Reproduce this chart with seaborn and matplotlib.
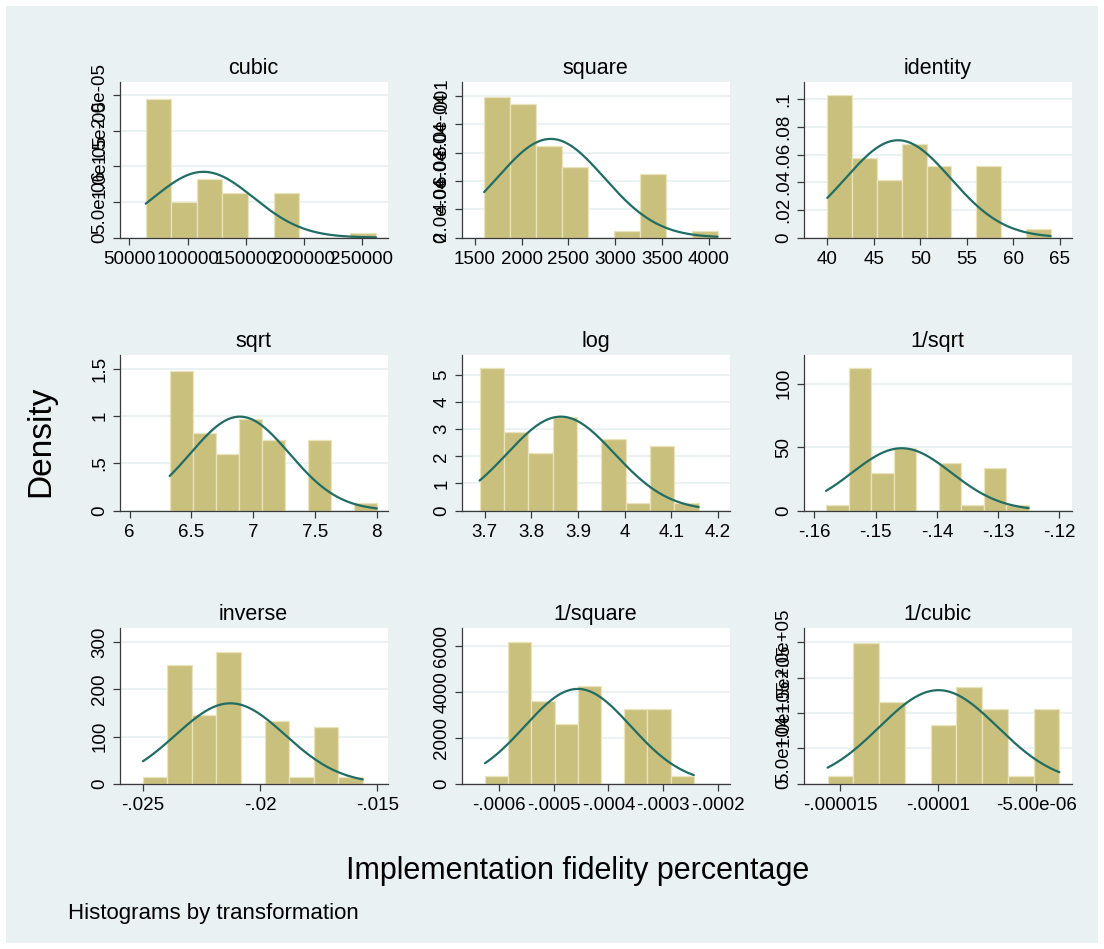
import numpy as np
import pandas as pd
import matplotlib
matplotlib.use("Agg")
import matplotlib.pyplot as plt
from matplotlib.patches import Rectangle
from matplotlib.ticker import FixedLocator, FixedFormatter
import seaborn as sns

# ---- data -------------------------------------------------------------
panel_names = ["cubic", "square", "identity",
               "sqrt", "log", "1/sqrt",
               "inverse", "1/square", "1/cubic"]

# range of the transformed variable (9 equal-width bins over it)
bin_low = [64000, 1600, 40, 6.32456, 3.68888, -0.158114, -0.025, -0.000625, -1.5625e-05]
bin_high = [262144, 4096, 64, 8.0, 4.15888, -0.125, -0.015625, -0.00024414, -3.8147e-06]

dens_cubic = [1.944e-05, 5.02e-06, 8.17e-06, 6.29e-06, 0, 6.29e-06, 0, 0, 0.70e-06]
dens_square = [0.000993, 0.000946, 0.000645, 0.000496, 0, 0.0000473, 0.000449, 0, 0.0000473]
dens_identity = [0.1029, 0.0572, 0.0416, 0.0673, 0.0519, 0, 0.0519, 0, 0.0060]
dens_sqrt = [1.4825, 0.819, 0.597, 0.967, 0.748, 0, 0.748, 0, 0.0847]
dens_log = [5.246, 2.887, 2.113, 3.44, 0, 2.641, 0.295, 2.383, 0.295]
dens_invsqrt = [4.2, 112.1, 29.9, 49.1, 0, 37.3, 4.2, 33.9, 4.2]
dens_inverse = [14.1, 251, 146, 278.5, 0, 133.3, 14.1, 121.3, 14.1]
dens_invsquare = [347, 6173, 3600, 2602, 4250, 0, 3267, 3267, 347]
dens_invcubic = [10402, 199527, 115366, 0, 83688, 137116, 105437, 10402, 105437]
densities = [dens_cubic, dens_square, dens_identity,
             dens_sqrt, dens_log, dens_invsqrt,
             dens_inverse, dens_invsquare, dens_invcubic]

# normal density overlay parameters
curve_mean = [113700, 2312, 47.6, 6.892, 3.863, -0.14575, -0.02127, -0.0004558, -9.975e-06]
curve_sd = [43130, 572, 5.67, 0.401, 0.1152, 0.008125, 0.002338, 9.683e-05, 3.0135e-06]

# tick values and labels
x_ticks = [
    [50000, 100000, 150000, 200000, 250000],
    [1500, 2000, 2500, 3000, 3500, 4000],
    [40, 45, 50, 55, 60, 65],
    [6, 6.5, 7, 7.5, 8],
    [3.7, 3.8, 3.9, 4.0, 4.1, 4.2],
    [-0.16, -0.15, -0.14, -0.13, -0.12],
    [-0.025, -0.02, -0.015],
    [-0.0006, -0.0005, -0.0004, -0.0003, -0.0002],
    [-1.5e-05, -1e-05, -5e-06],
]
x_labels = [
    ["50000", "100000", "150000", "200000", "250000"],
    ["1500", "2000", "2500", "3000", "3500", "4000"],
    ["40", "45", "50", "55", "60", "65"],
    ["6", "6.5", "7", "7.5", "8"],
    ["3.7", "3.8", "3.9", "4", "4.1", "4.2"],
    ["-.16", "-.15", "-.14", "-.13", "-.12"],
    ["-.025", "-.02", "-.015"],
    ["-.0006", "-.0005", "-.0004", "-.0003", "-.0002"],
    ["-.000015", "-.00001", "-5.00e-06"],
]
y_ticks = [
    [0, 5e-06, 1e-05, 1.5e-05, 2e-05],
    [0, 0.0002, 0.0004, 0.0006, 0.0008, 0.001],
    [0, 0.02, 0.04, 0.06, 0.08, 0.1],
    [0, 0.5, 1, 1.5],
    [0, 1, 2, 3, 4, 5],
    [0, 50, 100],
    [0, 100, 200, 300],
    [0, 2000, 4000, 6000],
    [0, 50000, 100000, 150000, 200000],
]
y_labels = [
    ["0", "5.0e-06", "1.0e-05", "1.5e-05", "2.0e-05"],
    ["0", "2.0e-04", "4.0e-04", "6.0e-04", "8.0e-04", ".001"],
    ["0", ".02", ".04", ".06", ".08", ".1"],
    ["0", ".5", "1", "1.5"],
    ["0", "1", "2", "3", "4", "5"],
    ["0", "50", "100"],
    ["0", "100", "200", "300"],
    ["0", "2000", "4000", "6000"],
    ["0", "5.0e+04", "1.0e+05", "1.5e+05", "2.0e+05"],
]

# ---- layout -------------------------------------------------------------
x_limits = [(41392, 272095), (1357.6, 4224), (37.44, 66.24),
            (5.919, 8.086), (3.65, 4.225), (-0.16179, -0.118),
            (-0.026, -0.01457), (-0.000668, -0.000179), (-1.6855e-05, -3.196e-06)]
y_limits = [(0, 2.19e-05), (0, 0.0011), (0, 0.1125),
            (0, 1.648), (0, 5.737), (0, 122.6),
            (0, 329.6), (0, 6752), (0, 219858)]

W, H = 1104, 949
col_left = [119.5, 461.5, 803.5]
col_width = 268
row_top = [82, 355, 628.3]
row_height = 155.5

BG = "#E9F1F3"
BAR = "#C9C07E"
BAR_EDGE = "#E9E4BE"
CURVE = "#216D63"
AXIS = "#3A3A3A"

sns.set_theme(style="white")
plt.rcParams["font.family"] = ["Liberation Sans", "DejaVu Sans"]

fig = plt.figure(figsize=(W / 100, H / 100), dpi=100, facecolor="white")
fig.patches.append(Rectangle((6 / W, 6 / H), (W - 12) / W, (H - 12) / H,
                             transform=fig.transFigure, facecolor=BG,
                             edgecolor="none", zorder=-10))

for i, name in enumerate(panel_names):
    r, c = divmod(i, 3)
    left = col_left[c] / W
    bottom = 1 - (row_top[r] + row_height) / H
    ax = fig.add_axes([left, bottom, col_width / W, row_height / H])
    ax.set_zorder(1)
    ax.set_facecolor("white")

    nbins = len(densities[i])
    width = (bin_high[i] - bin_low[i]) / nbins
    centers = bin_low[i] + width * (np.arange(nbins) + 0.5)
    df = pd.DataFrame({"x": centers, "w": densities[i]})
    sns.histplot(data=df, x="x", weights="w", bins=nbins,
                 binrange=(bin_low[i], bin_high[i]), stat="count",
                 color=BAR, alpha=1, edgecolor=BAR_EDGE, linewidth=0.9, ax=ax)

    xs = np.linspace(bin_low[i], bin_high[i], 300)
    pdf = np.exp(-0.5 * ((xs - curve_mean[i]) / curve_sd[i]) ** 2) / (curve_sd[i] * np.sqrt(2 * np.pi))
    sns.lineplot(x=xs, y=pdf, color=CURVE, linewidth=1.6, ax=ax)

    ax.set_xlim(*x_limits[i])
    ax.set_ylim(*y_limits[i])
    ax.xaxis.set_major_locator(FixedLocator(x_ticks[i]))
    ax.xaxis.set_major_formatter(FixedFormatter(x_labels[i]))
    ax.yaxis.set_major_locator(FixedLocator(y_ticks[i]))
    ax.yaxis.set_major_formatter(FixedFormatter(y_labels[i]))

    ax.set_axisbelow(True)
    ax.grid(axis="y", color=BG, linewidth=1.3)
    ax.grid(axis="x", visible=False)
    for side in ("top", "right"):
        ax.spines[side].set_visible(False)
    for side in ("left", "bottom"):
        ax.spines[side].set_color(AXIS)
        ax.spines[side].set_linewidth(0.9)
    ax.tick_params(axis="both", direction="out", length=5, width=0.9,
                   color=AXIS, labelsize=13.5, labelcolor="black",
                   left=True, bottom=True)
    ax.tick_params(axis="x", pad=4.5)
    ax.tick_params(axis="y", pad=3, labelrotation=90)
    for lab in ax.get_yticklabels():
        lab.set_verticalalignment("center")
    ax.set_xlabel("")
    ax.set_ylabel("")
    ax.set_title(name, fontsize=15.5, pad=6, color="black")

fig.text(41 / W, 1 - 441 / H, "Density", rotation=90, fontsize=24,
         ha="center", va="center", color="black")
fig.text(578 / W, 1 - 871 / H, "Implementation fidelity percentage",
         fontsize=22, ha="center", va="center", color="black")
fig.text(68 / W, 1 - 913 / H, "Histograms by transformation",
         fontsize=16, ha="left", va="center", color="black")

fig.savefig("out.png", dpi=100, facecolor="white")
